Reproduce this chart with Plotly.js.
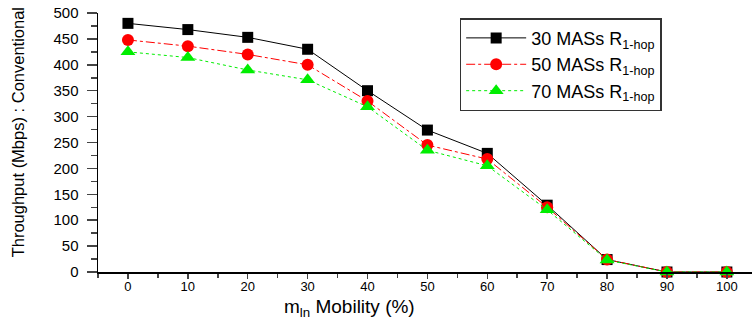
<!DOCTYPE html>
<html><head><meta charset="utf-8">
<script src="https://cdn.plot.ly/plotly-3.0.1.min.js"></script>
<style>body{margin:0;background:#fff}#chart{width:752px;height:323px}</style>
</head><body><div id="chart"></div>
<script>
const mobility = [0,10,20,30,40,50,60,70,80,90,100];
const mas30 = [480,468,453,430,350,274,229,129,24,0,0];
const mas50 = [448,436,420,400,330,245,218,125,24,0,0];
const mas70 = [425,414,390,371,319,235,205,120,23,0,0];
const seriesNames = ['30 MASs R<sub>1-hop</sub>','50 MASs R<sub>1-hop</sub>','70 MASs R<sub>1-hop</sub>'];
const xTickVals = [0,10,20,30,40,50,60,70,80,90,100];
const yTickVals = [0,50,100,150,200,250,300,350,400,450,500];
const xTitle = 'm<sub>ln</sub> Mobility (%)';
const yTitle = 'Throughput (Mbps) : Conventional';

const traces = [
  {x: mobility, y: mas30, name: seriesNames[0], mode:'lines+markers',
   line:{color:'#000',width:1,dash:'solid'}, marker:{symbol:'square',size:11,color:'#000'}, cliponaxis:false},
  {x: mobility, y: mas50, name: seriesNames[1], mode:'lines+markers',
   line:{color:'#ff0000',width:1,dash:'dashdot'}, marker:{symbol:'circle',size:12,color:'#ff0000'}, cliponaxis:false},
  {x: mobility, y: mas70, name: seriesNames[2], mode:'lines+markers',
   line:{color:'#00ee00',width:1,dash:'dot'}, marker:{symbol:'triangle-up',size:13,color:'#00ee00'}, cliponaxis:false}
];
const layout = {
  width:752, height:323,
  margin:{l:98,r:0,t:13,b:51},
  paper_bgcolor:'#fff', plot_bgcolor:'#fff',
  font:{family:'Liberation Sans, Arial, sans-serif', color:'#000'},
  showlegend:true,
  legend:{x:0.553, y:0.98, xanchor:'left', yanchor:'top', bordercolor:'#333', borderwidth:1.5,
    bgcolor:'#fff', font:{size:18, color:'#000'}, tracegroupgap:0, itemwidth:60},
  xaxis:{range:[-5,104.2], tickvals:xTickVals, ticks:'outside', ticklen:5, tickwidth:1.5,
    showline:true, linecolor:'#000', linewidth:1.5, showgrid:false, zeroline:false,
    tickfont:{size:13}, ticklabelstandoff:-3,
    minor:{dtick:5, ticks:'outside', ticklen:4, tickwidth:1.5, showgrid:false}},
  yaxis:{range:[0,500], tickvals:yTickVals, ticks:'outside', ticklen:10, tickwidth:1.5,
    showline:true, linecolor:'#000', linewidth:1.5, showgrid:false, zeroline:false,
    tickfont:{size:15}, ticklabelstandoff:5,
    minor:{dtick:25, ticks:'outside', ticklen:6, tickwidth:1.5, showgrid:false}},
  annotations:[
    {text:xTitle, xref:'paper', yref:'paper', x:0.384, y:-0.14, xanchor:'center', yanchor:'middle',
     showarrow:false, font:{size:19}},
    {text:yTitle, xref:'paper', yref:'paper', x:-0.122, y:0.54, xanchor:'center', yanchor:'middle',
     textangle:-90, showarrow:false, font:{size:16.5}}
  ]
};
Plotly.newPlot('chart', traces, layout, {displayModeBar:false, staticPlot:true});
</script></body></html>
